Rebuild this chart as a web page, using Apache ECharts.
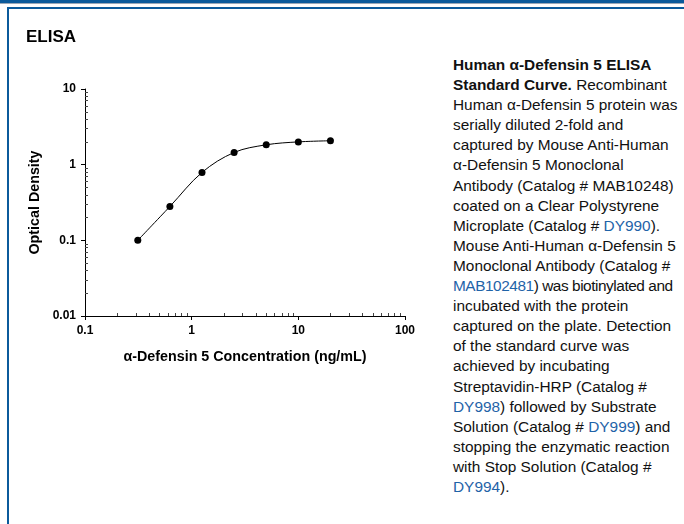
<!DOCTYPE html>
<html>
<head>
<meta charset="utf-8">
<script src="https://cdn.jsdelivr.net/npm/echarts@6/dist/echarts.min.js"></script>
<style>
  html, body { margin: 0; padding: 0; background: #fff; }
  body { width: 684px; height: 524px; position: relative; overflow: hidden; font-family: "Liberation Sans", Arial, sans-serif; }
  #topbar { position: absolute; left: 0; top: 0; width: 684px; height: 3px; background: #0b5a9b; }
  #topgray { position: absolute; left: 0; top: 3px; width: 684px; height: 1px; background: #9aa8b8; }
  #frameTop { position: absolute; left: 7px; top: 7px; width: 677px; height: 2px; background: #0b5a9b; }
  #frameLeft { position: absolute; left: 7px; top: 7px; width: 2px; height: 517px; background: #0b5a9b; }
  #chart { position: absolute; left: 0; top: 0; width: 440px; height: 524px; }
  #desc { position: absolute; left: 453px; top: 55px; width: 231px; font-size: 15.4px; line-height: 20.1px; color: #111; white-space: nowrap; }
  #desc a { color: #1f63a8; text-decoration: none; }
  #desc .tight { letter-spacing: -0.45px; }
</style>
</head>
<body>
<div id="topbar"></div>
<div id="topgray"></div>
<div id="frameTop"></div>
<div id="frameLeft"></div>
<div id="chart"></div>
<div id="desc"><b>Human α-Defensin 5 ELISA<br>Standard Curve.</b> Recombinant<br>Human α-Defensin 5 protein was<br>serially diluted 2-fold and<br>captured by Mouse Anti-Human<br>α-Defensin 5 Monoclonal<br>Antibody (Catalog # MAB10248)<br>coated on a Clear Polystyrene<br>Microplate (Catalog # <a>DY990</a>).<br>Mouse Anti-Human α-Defensin 5<br>Monoclonal Antibody (Catalog #<br><span class="tight"><a>MAB102481</a>) was biotinylated and</span><br>incubated with the protein<br>captured on the plate. Detection<br>of the standard curve was<br>achieved by incubating<br>Streptavidin-HRP (Catalog #<br><a>DY998</a>) followed by Substrate<br>Solution (Catalog # <a>DY999</a>) and<br>stopping the enzymatic reaction<br>with Stop Solution (Catalog #<br><a>DY994</a>).</div>
<script>
// Data
const concentration = [0.3125, 0.625, 1.25, 2.5, 5, 10, 20];
const opticalDensity = [0.100, 0.28, 0.79, 1.45, 1.83, 2.00, 2.07];
const xMinorTicks = [0.2,0.3,0.4,0.5,0.6,0.7,0.8,0.9,2,3,4,5,6,7,8,9,20,30,40,50,60,70,80,90];
const yMinorTicks = [0.02,0.03,0.04,0.05,0.06,0.07,0.08,0.09,0.2,0.3,0.4,0.5,0.6,0.7,0.8,0.9,2,3,4,5,6,7,8,9];
const xLabels = ['0.1', '1', '10', '100'];
const yLabels = ['0.01', '0.1', '1', '10'];

const chart = echarts.init(document.getElementById('chart'), null, { renderer: 'canvas' });
const fmt = function (v) {
  const r = Math.round(Math.log10(v));
  const labels = { '-2': '0.01', '-1': '0.1', '0': '1', '1': '10', '2': '100' };
  return labels[String(r)];
};
const baseFont = { fontFamily: 'Liberation Sans', fontWeight: 'bold', color: '#000' };
const option = {
  animation: false,
  title: {
    text: 'ELISA', left: 21, top: 24,
    textStyle: { fontFamily: 'Liberation Sans', fontWeight: 'bold', fontSize: 17, color: '#000' }
  },
  grid: { left: 85, top: 89, width: 320, height: 227, containLabel: false },
  xAxis: [
    {
      type: 'log', logBase: 10, min: 0.1, max: 100,
      name: 'α-Defensin 5 Concentration (ng/mL)', nameLocation: 'middle', nameGap: 34,
      nameTextStyle: Object.assign({ fontSize: 14.3 }, baseFont),
      axisLine: { lineStyle: { color: '#000', width: 1 } },
      axisTick: { show: true, inside: false, length: 4, lineStyle: { color: '#000' } },
      axisLabel: Object.assign({ fontSize: 12, margin: 9, formatter: fmt }, baseFont),
      splitLine: { show: false }
    },
    {
      type: 'log', logBase: 10, min: 0.1, max: 100, position: 'bottom',
      axisLine: { show: false },
      axisTick: { show: true, inside: true, length: 3, customValues: xMinorTicks, lineStyle: { color: '#444' } },
      axisLabel: { show: false },
      splitLine: { show: false }
    }
  ],
  yAxis: [
    {
      type: 'log', logBase: 10, min: 0.01, max: 10,
      name: 'Optical Density', nameLocation: 'middle', nameGap: 42, nameRotate: 90,
      nameTextStyle: Object.assign({ fontSize: 14.3 }, baseFont),
      axisLine: { show: true, lineStyle: { color: '#000', width: 1 } },
      axisTick: { show: true, inside: false, length: 4, lineStyle: { color: '#000' } },
      axisLabel: Object.assign({ fontSize: 12, margin: 9, formatter: fmt }, baseFont),
      splitLine: { show: false }
    },
    {
      type: 'log', logBase: 10, min: 0.01, max: 10, position: 'left',
      axisLine: { show: false },
      axisTick: { show: true, inside: true, length: 3, customValues: yMinorTicks, lineStyle: { color: '#444' } },
      axisLabel: { show: false },
      splitLine: { show: false }
    }
  ],
  series: [{
    type: 'line',
    data: concentration.map((c, i) => [c, opticalDensity[i]]),
    smooth: 0.35,
    symbol: 'circle', symbolSize: 7,
    itemStyle: { color: '#000' },
    lineStyle: { color: '#000', width: 1 }
  }]
};
chart.setOption(option);
</script>
</body>
</html>
